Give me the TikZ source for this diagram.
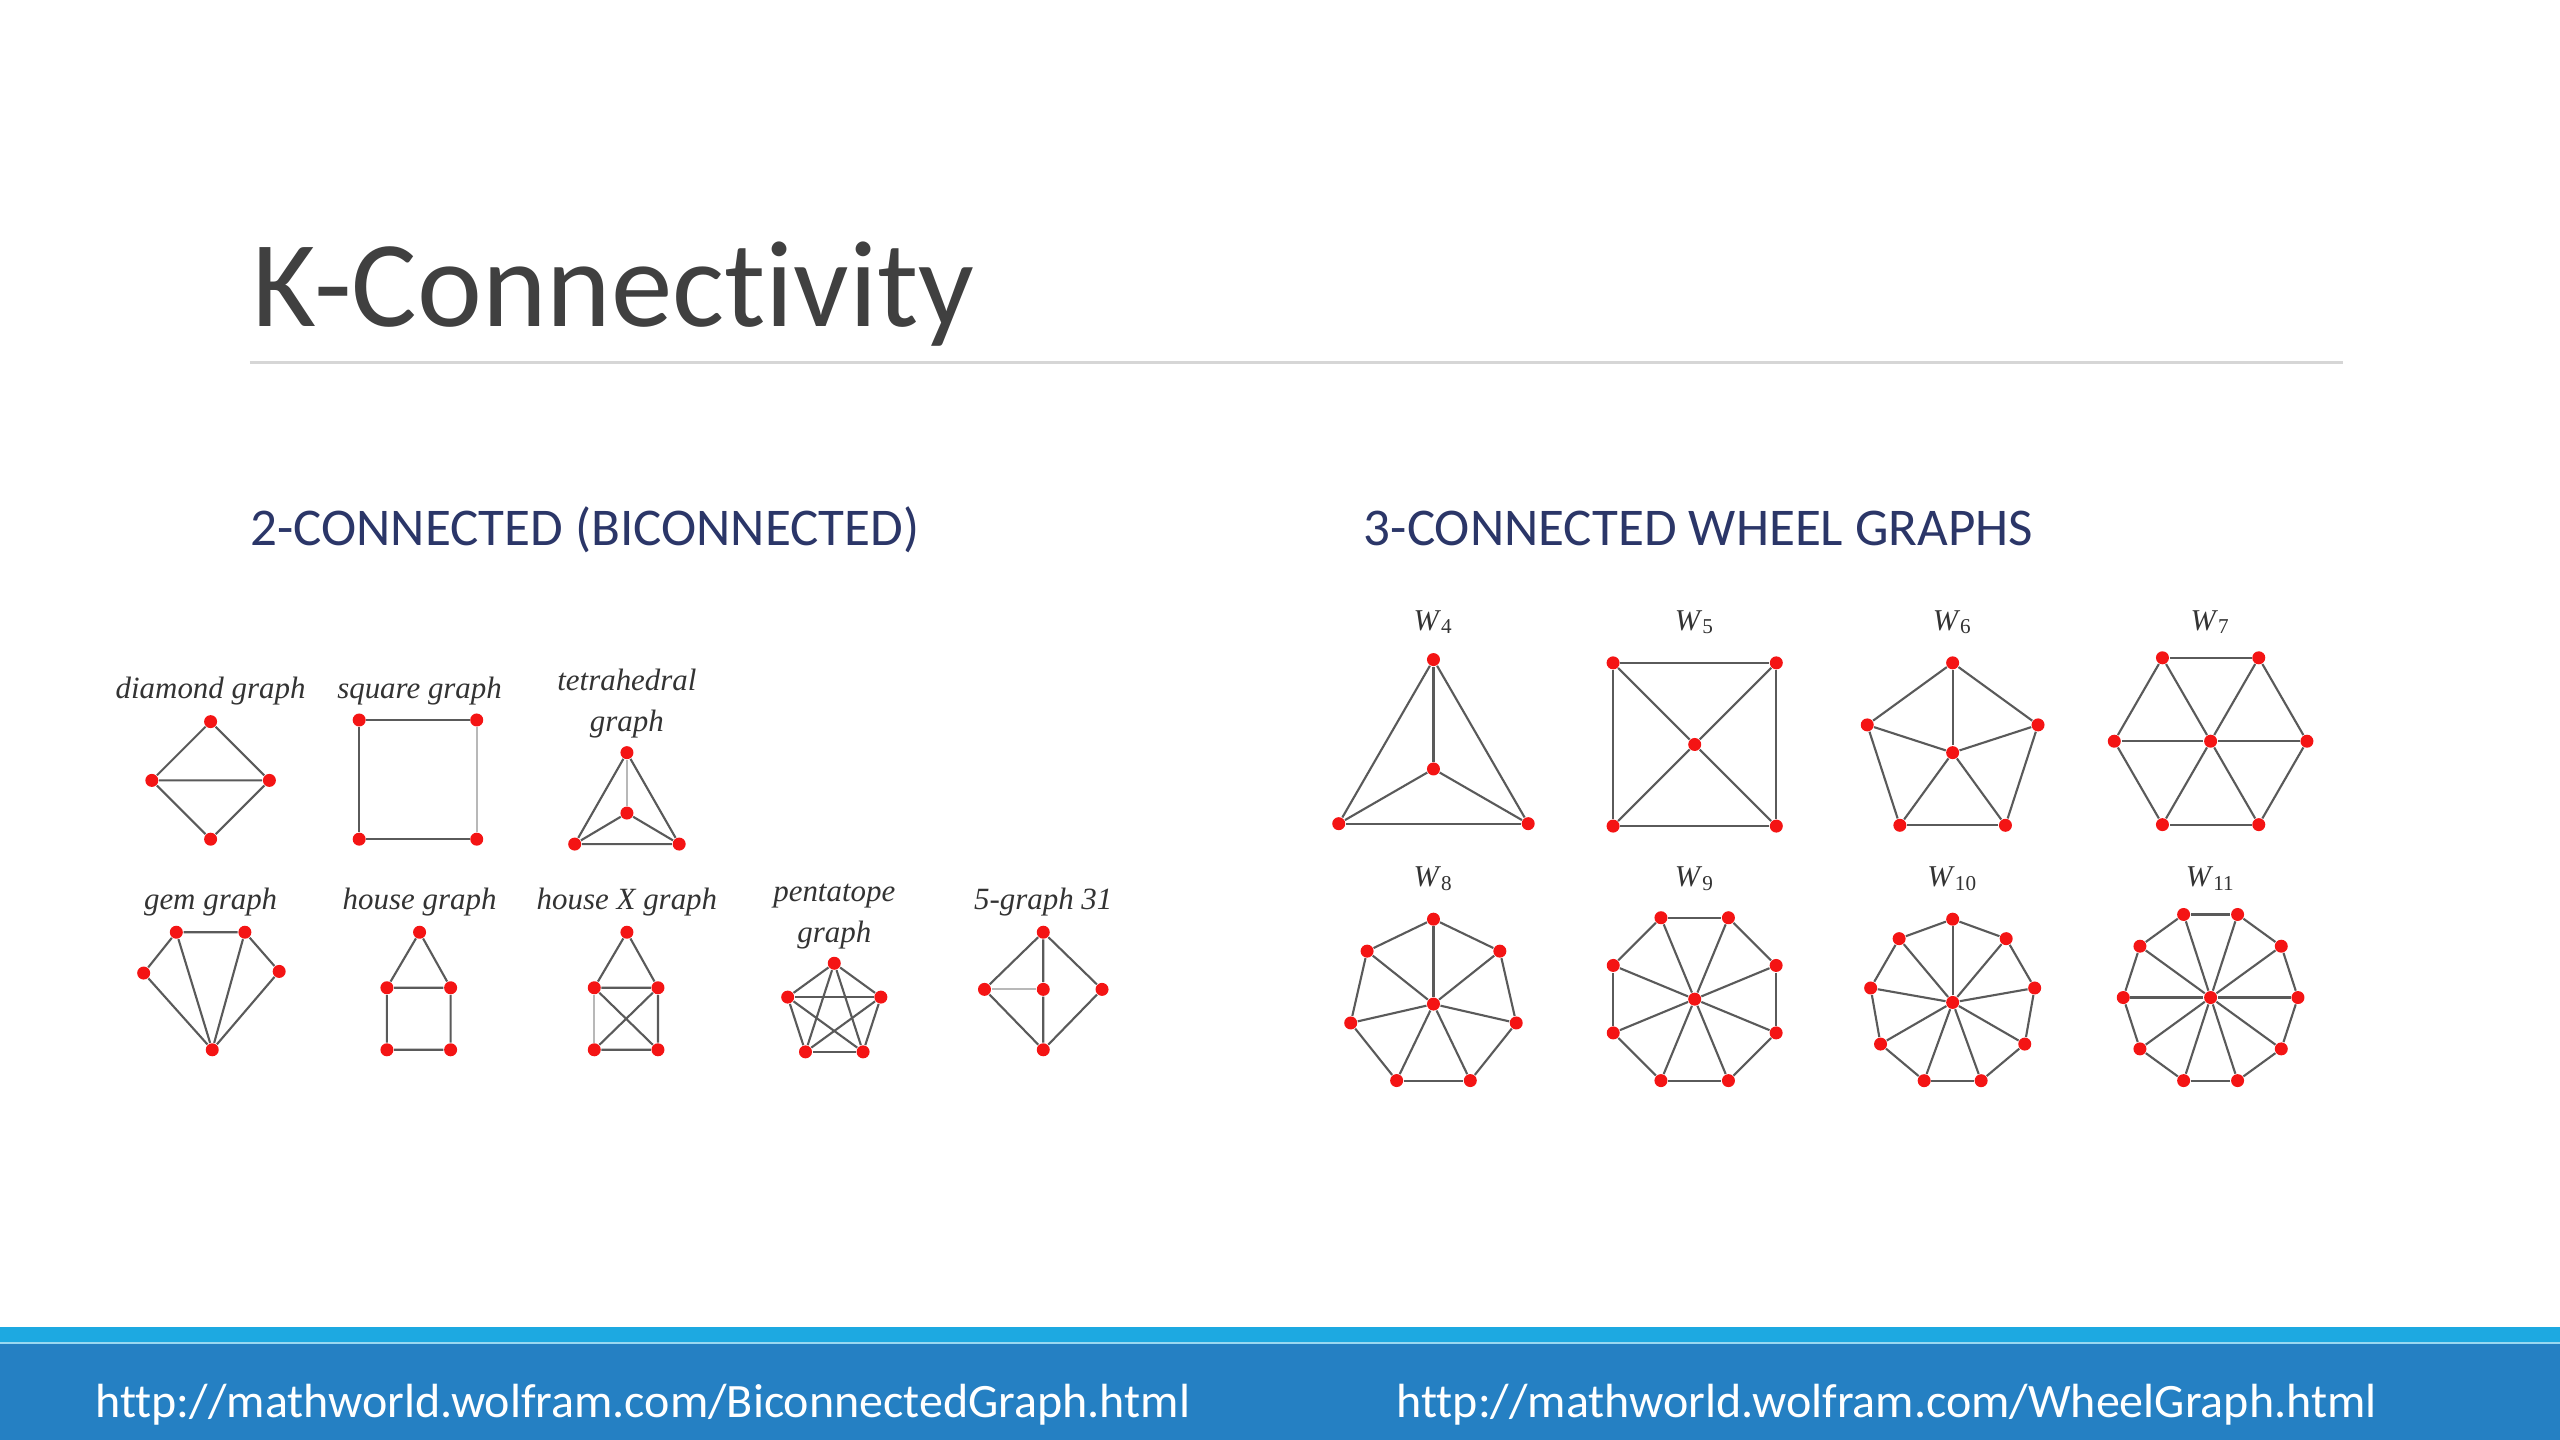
\documentclass[tikz,border=0pt]{standalone}
\usepackage{fontspec}
\setmainfont{Carlito}[Ligatures=NoCommon]
\newfontfamily\gfont{Liberation Serif}
\usepackage{tikz}
\usetikzlibrary{calc}
\definecolor{titlegray}{HTML}{404040}
\definecolor{headnavy}{HTML}{2B3668}
\definecolor{rulegray}{HTML}{D6D6D6}
\definecolor{barlight}{HTML}{1DA9E1}
\definecolor{bardark}{HTML}{2580C3}
\definecolor{edgegray}{HTML}{5A5A5A}
\definecolor{vtxred}{HTML}{F41414}

\begin{document}
\begin{tikzpicture}[x=0.16327mm, y=-0.16327mm,
  vtx/.style={circle, fill=vtxred, inner sep=0pt, minimum size=1.3mm},
  edge/.style={draw=edgegray, line width=0.6pt},
  faint/.style={draw=black!28, line width=0.6pt},
  gname/.style={font=\gfont\itshape\fontsize{8.8}{10}\selectfont, text=black!80,
                anchor=base, inner sep=0pt},
  wname/.style={font=\gfont\fontsize{8.6}{10}\selectfont, text=black!80,
                anchor=base, inner sep=0pt},
  heading/.style={font=\fontsize{15.1}{18}\selectfont, text=headnavy,
                  anchor=base west, inner sep=0pt},
  url/.style={font=\fontsize{13.65}{16}\selectfont, text=white,
              anchor=base west, inner sep=0pt},
]
  \useasboundingbox (0,0) rectangle (1568,882);
  \fill[white] (0,0) rectangle (1568,882);

  % title and headings
  \node[anchor=base west, inner sep=0pt, text=titlegray,
        font=\fontsize{35}{40}\selectfont] (title) at (154,200) {K-Connectivity};
  \draw[rulegray, line width=1pt] (153,222) -- (1435,222);
  \node[heading] (head-bi) at (153,334) {2-CONNECTED (BICONNECTED)};
  \node[heading] (head-wh) at (835,334) {3-CONNECTED WHEEL GRAPHS};

  % diamond graph
  \node[gname] (dia-name) at (129,428) {diamond graph};
  \node[vtx] (dia-t) at (129,442) {};
  \node[vtx] (dia-l) at (93,478) {};
  \node[vtx] (dia-r) at (165,478) {};
  \node[vtx] (dia-b) at (129,514) {};
  \draw[edge] (dia-t) -- (dia-l) -- (dia-b) -- (dia-r) -- (dia-t) (dia-l) -- (dia-r);

  % square graph
  \node[gname] (sq-name) at (257,428) {square graph};
  \node[vtx] (sq-tl) at (220,441) {};
  \node[vtx] (sq-tr) at (292,441) {};
  \node[vtx] (sq-bl) at (220,514) {};
  \node[vtx] (sq-br) at (292,514) {};
  \draw[edge] (sq-tl) -- (sq-tr) (sq-br) -- (sq-bl) -- (sq-tl);
  \draw[faint] (sq-tr) -- (sq-br);

  % tetrahedral graph
  \node[gname] (tet-name) at (384,423) {tetrahedral};
  \node[gname] (tet-name2) at (384,448) {graph};
  \node[vtx] (tet-t) at (384,461) {};
  \node[vtx] (tet-c) at (384,498) {};
  \node[vtx] (tet-l) at (352,517) {};
  \node[vtx] (tet-r) at (416,517) {};
  \draw[edge] (tet-t) -- (tet-l) -- (tet-r) -- (tet-t) (tet-c) -- (tet-l) (tet-c) -- (tet-r);
  \draw[faint] (tet-c) -- (tet-t);

  % gem graph
  \node[gname] (gem-name) at (129,557) {gem graph};
  \node[vtx] (gem-tl) at (108,571) {};
  \node[vtx] (gem-tr) at (150,571) {};
  \node[vtx] (gem-l) at (88,596) {};
  \node[vtx] (gem-r) at (171,595) {};
  \node[vtx] (gem-b) at (130,643) {};
  \draw[edge] (gem-l) -- (gem-tl) -- (gem-tr) -- (gem-r) -- (gem-b) -- (gem-l)
              (gem-tl) -- (gem-b) (gem-tr) -- (gem-b);

  % house graph
  \node[gname] (hou-name) at (257,557) {house graph};
  \node[vtx] (hou-t) at (257,571) {};
  \node[vtx] (hou-ml) at (237,605) {};
  \node[vtx] (hou-mr) at (276,605) {};
  \node[vtx] (hou-bl) at (237,643) {};
  \node[vtx] (hou-br) at (276,643) {};
  \draw[edge] (hou-ml) -- (hou-t) -- (hou-mr) -- (hou-ml) -- (hou-bl) -- (hou-br) -- (hou-mr);

  % house X graph
  \node[gname] (hx-name) at (384,557) {house X graph};
  \node[vtx] (hx-t) at (384,571) {};
  \node[vtx] (hx-ml) at (364,605) {};
  \node[vtx] (hx-mr) at (403,605) {};
  \node[vtx] (hx-bl) at (364,643) {};
  \node[vtx] (hx-br) at (403,643) {};
  \draw[edge] (hx-ml) -- (hx-t) -- (hx-mr) -- (hx-ml) (hx-bl) -- (hx-br) -- (hx-mr)
              (hx-ml) -- (hx-br) (hx-mr) -- (hx-bl);
  \draw[faint] (hx-ml) -- (hx-bl);

  % pentatope graph
  \node[gname] (pen-name) at (511,552) {pentatope};
  \node[gname] (pen-name2) at (511,577) {graph};
  \foreach \i in {1,...,5}
    \node[vtx] (pen-\i) at ($(511,620)+(-90+72*\i-72:30)$) {};
  \foreach \i in {1,...,4} {
    \pgfmathtruncatemacro\s{\i+1}
    \foreach \j in {\s,...,5}
      \draw[edge] (pen-\i) -- (pen-\j);
  }

  % 5-graph 31
  \node[gname] (fg-name) at (639,557) {5-graph 31};
  \node[vtx] (fg-t) at (639,571) {};
  \node[vtx] (fg-l) at (603,606) {};
  \node[vtx] (fg-c) at (639,606) {};
  \node[vtx] (fg-r) at (675,606) {};
  \node[vtx] (fg-b) at (639,643) {};
  \draw[edge] (fg-t) -- (fg-l) -- (fg-b) -- (fg-r) -- (fg-t) (fg-t) -- (fg-c) -- (fg-b);
  \draw[faint] (fg-l) -- (fg-c);

  % wheel graphs: n / centre x / centre y / radius / start angle / label base
  \foreach \n/\cx/\cy/\r/\a/\ly in {4/878/471/67/-90/386, 5/1038/456/70.7/-45/386,
      6/1196/461/55/-90/386, 7/1354/454/59/0/386, 8/878/615/52/-90/543,
      9/1038/612/54/-67.5/543, 10/1196/614/51/-90/543, 11/1354/611/53.5/0/543} {
    \pgfmathtruncatemacro\k{\n-1}
    \node[wname] (w\n-name) at (\cx,\ly) {\textit{W}\textsubscript{\n}};
    \node[vtx] (w\n-c) at (\cx,\cy) {};
    \foreach \i in {1,...,\k}
      \node[vtx] (w\n-\i) at ($(\cx,\cy)+(\a+360*\i/\k-360/\k:\r)$) {};
    \foreach \i in {1,...,\k} {
      \pgfmathtruncatemacro\j{mod(\i,\k)+1}
      \draw[edge] (w\n-\i) -- (w\n-\j);
      \draw[edge] (w\n-c) -- (w\n-\i);
    }
  }

  % footer bar
  \fill[barlight] (0,813) rectangle (1568,823);
  \fill[bardark] (0,823) rectangle (1568,882);
  \draw[barlight!45, line width=0.6pt] (0,822.5) -- (1568,822.5);
  \node[url] (url-bi) at (58,868) {http://mathworld.wolfram.com/BiconnectedGraph.html};
  \node[url] (url-wh) at (855,868) {http://mathworld.wolfram.com/WheelGraph.html};
\end{tikzpicture}
\end{document}
